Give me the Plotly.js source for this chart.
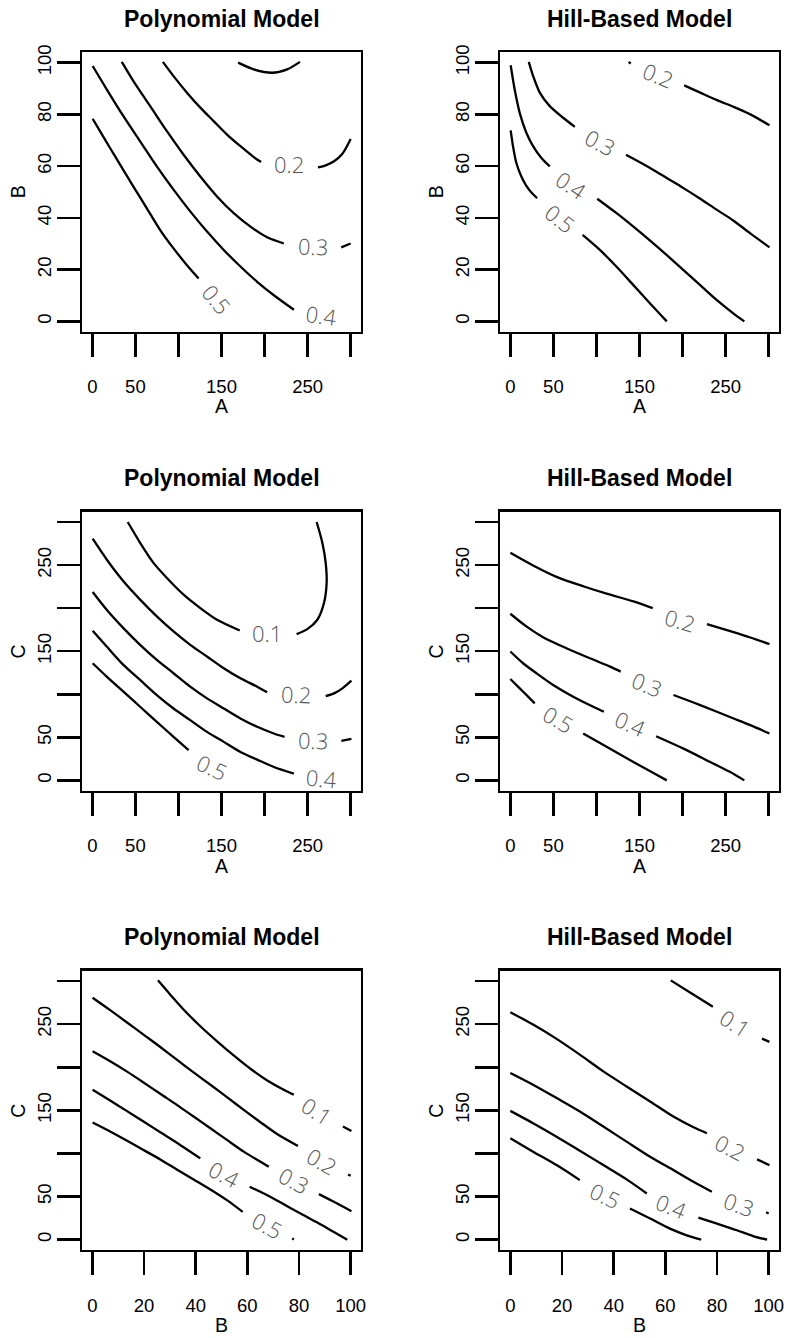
<!DOCTYPE html>
<html><head><meta charset="utf-8">
<script src="https://cdn.plot.ly/plotly-3.0.1.min.js"></script>
<style>html,body{margin:0;padding:0;background:#fff}#plot{width:787px;height:1338px}</style>
</head><body><div id="plot"></div>
<script>
// ---------- tick values / labels ----------
const ticks300 = [0, 50, 100, 150, 200, 250, 300];
const ticks300Text = ['0', '50', '', '150', '', '250', ''];
const ticks100 = [0, 20, 40, 60, 80, 100];
const ticks100Text = ['0', '20', '40', '60', '80', '100'];
const titles = ['Polynomial Model', 'Hill-Based Model'];

// ---------- Panel 1: Polynomial, A vs B ----------
const pAB_01_A = [169.3, 187.5, 208.9, 226.3, 241.1];
const pAB_01_B = [100, 97.4, 96.1, 97.4, 100.3];
const pAB_02_A = [81.9, 94.3, 109.9, 125.4, 140.9, 156.4, 172, 187.5, 196, null, 262, 271, 280.7, 290.4, 300];
const pAB_02_B = [100.3, 94.8, 88.4, 82.6, 77.4, 72.2, 67.7, 63.5, 61.6, null, 59.5, 60.3, 61.9, 64.8, 70.5];
const pAB_03_A = [34.2, 47.7, 67.2, 86.6, 106, 125.4, 144.8, 164.2, 183.6, 203, 222.4, null, 289, 300];
const pAB_03_B = [100.3, 92.9, 83.2, 73.5, 64.4, 56, 48.3, 41.8, 36.6, 32.5, 30.1, null, 28.6, 30.1];
const pAB_04_A = [0.4, 16.7, 36.1, 55.5, 74.9, 94.3, 113.7, 133.2, 152.6, 172, 191.4, 210.8, 234.1];
const pAB_04_B = [98.7, 89.7, 79.3, 69.6, 59.9, 50.9, 42.5, 34.7, 27.6, 21.2, 15.3, 10.1, 4.5];
const pAB_05_A = [0.4, 8.9, 20.6, 32.2, 47.7, 63.3, 78.8, 94.3, 109.9, 123.4];
const pAB_05_B = [78.3, 73.5, 67, 60.6, 52.1, 43.7, 35.3, 28.2, 21.7, 16.6];
const pAB_labText = ['0.2', '0.3', '0.4', '0.5'];
const pAB_labA = [228.3, 256, 266.3, 144.8];
const pAB_labB = [60.7, 29.2, 2.6, 8.8];
const pAB_labAngle = [0, 2, 8, 50];

// ---------- Panel 2: Hill, A vs B ----------
const hAB_02_A = [137.4, 139.8, null, 201.9, 220.5, 239.9, 259.3, 278.7, 300.9];
const hAB_02_B = [100.3, 99.6, null, 91.2, 88.4, 85.5, 82.9, 80, 75.8];
const hAB_03_A = [21.4, 26.4, 34.2, 45.8, 61.3, 74.9, null, 134.3, 162.3, 181.7, 201.1, 220.5, 239.9, 259.3, 278.7, 300.9];
const hAB_03_B = [100.3, 94.9, 88.4, 83.2, 78.7, 75.2, null, 64.4, 59.3, 55.4, 51.5, 47.4, 43.1, 38.9, 34, 28.6];
const hAB_04_A = [0.4, 5, 10.9, 18.6, 26.4, 36.1, 45.8, null, 100.9, 123.4, 142.9, 162.3, 181.7, 201.1, 220.5, 239.9, 259.3, 271.7];
const hAB_04_B = [99, 89.7, 80.6, 72.9, 67.7, 63.1, 59.9, null, 47.4, 41.8, 36.6, 31.2, 25.6, 19.8, 14, 8.2, 3, 0];
const hAB_05_A = [0.4, 3.1, 7, 12.8, 18.6, 24.5, 31.1, null, 83.9, 104, 123.4, 142.9, 162.3, 181.7];
const hAB_05_B = [73.8, 67.7, 61.2, 56, 52.4, 49.8, 47.6, null, 33.4, 27.6, 21.1, 14, 6.9, 0];
const hAB_labText = ['0.2', '0.3', '0.4', '0.5'];
const hAB_labA = [172, 104, 71, 57.5];
const hAB_labB = [95.1, 69.2, 52.8, 39.9];
const hAB_labAngle = [22, 28, 34, 38];

// ---------- Panel 3: Polynomial, A vs C ----------
const pAC_01_A = [41.1, 55.5, 71, 86.6, 106, 125.4, 144.8, 171.2, null, 237.2, 249.6, 261.3, 269, 272.1, 271, 267.1, 260.5];
const pAC_01_C = [300, 275.9, 252.6, 235.1, 215.7, 200.1, 186.5, 174.1, null, 169.8, 175.6, 186.5, 206, 229.3, 252.6, 275.9, 300];
const pAC_02_A = [0.4, 16.7, 36.1, 55.5, 74.9, 94.3, 113.7, 133.2, 152.6, 172, 191.4, 203, null, 271, 280.7, 290.4, 300.9];
const pAC_02_C = [280.6, 256.5, 231.2, 209.9, 190.4, 172.9, 157.4, 143.8, 130.2, 118.5, 108.8, 102.2, null, 97.9, 101, 106.9, 115.8];
const pAC_03_A = [0.4, 16.7, 36.1, 55.5, 74.9, 94.3, 113.7, 133.2, 152.6, 172, 191.4, 210.8, 223.2, null, 289.2, 300.9];
const pAC_03_C = [218.8, 198.2, 176.8, 157.4, 139.9, 124.4, 108.8, 95.2, 83.5, 71.9, 62.2, 54.4, 50.5, null, 45.9, 48.2];
const pAC_04_A = [0.4, 16.7, 36.1, 55.5, 74.9, 94.3, 113.7, 133.2, 152.6, 172, 191.4, 210.8, 234.1];
const pAC_04_C = [173.7, 155.4, 134.1, 116.6, 99.1, 83.5, 69.9, 56.3, 44.7, 33, 24.1, 15.5, 7.8];
const pAC_05_A = [0.4, 16.7, 36.1, 55.5, 74.9, 94.3, 111.8];
const pAC_05_C = [136, 120.5, 103, 85.5, 68, 50.5, 35];
const pAC_labText = ['0.1', '0.2', '0.3', '0.4', '0.5'];
const pAC_labA = [202.3, 236, 256.2, 266, 139];
const pAC_labC = [171, 100.3, 46.6, 2.7, 15.5];
const pAC_labAngle = [0, 2, 2, 5, 25];

// ---------- Panel 4: Hill, A vs C ----------
const hAC_02_A = [0, 26.4, 53.6, 84.6, 111.8, 142.9, 165.4, null, 228.3, 259.3, 278.7, 300.9];
const hAC_02_C = [264.2, 249.5, 236.3, 225.4, 216.8, 207.9, 200.1, null, 181.5, 172.1, 165.9, 158.2];
const hAC_03_A = [0, 18.6, 38, 65.2, 92.4, 115.7, 128.1, null, 189.4, 220.5, 259.3, 278.7, 300.9];
const hAC_03_C = [193.5, 178.8, 166.3, 153.5, 141.8, 132.1, 126.3, null, 99.1, 87.4, 71.9, 64.1, 54.4];
const hAC_04_A = [0, 14.8, 30.3, 49.7, 73, 96.3, 108.7, null, 169.3, 201.1, 232.1, 255.4, 271.7];
const hAC_04_C = [149.6, 136, 124.4, 110.8, 97.2, 85.5, 79.7, null, 51.3, 36.9, 21.4, 9.7, 0];
const hAC_05_A = [0, 10.9, 20.6, 28.3, null, 84.6, 111.8, 142.9, 166.2, 181.7];
const hAC_05_C = [117.7, 106.9, 97.2, 89.4, null, 54.4, 38.9, 21.4, 8.5, 0];
const hAC_labText = ['0.2', '0.3', '0.4', '0.5'];
const hAC_labA = [197.2, 158.4, 139, 55.5];
const hAC_labC = [186.5, 111.5, 66.1, 70.7];
const hAC_labAngle = [16, 22, 24, 30];

// ---------- Panel 5: Polynomial, B vs C ----------
const pBC_01_B = [25.4, 30.1, 35.3, 41.8, 48.3, 54.7, 61.2, 67.7, 74.1, 78, null, 97, 100.3];
const pBC_01_C = [300.8, 284.5, 267, 247.6, 230.1, 213.8, 198.3, 184.7, 173.9, 168, null, 131.2, 126.1];
const pBC_02_B = [0.1, 6.9, 13.3, 19.8, 26.3, 32.7, 39.2, 45.7, 52.1, 58.6, 65.1, 71.5, 79.6, null, 99, 100];
const pBC_02_C = [280.6, 266.2, 252.2, 237.9, 223.5, 208.8, 194, 179.7, 165.3, 150.6, 136.2, 122.6, 108.7, null, 75.7, 74.1];
const pBC_03_B = [0.1, 6.9, 13.3, 19.8, 26.3, 32.7, 39.2, 45.7, 52.1, 58.6, 65.1, 68.3, null, 87.7, 93.5, 100.3];
const pBC_03_C = [218.5, 206.9, 195.2, 182.4, 169.2, 156.4, 142.8, 129.2, 115.7, 102.1, 90.4, 84.6, null, 52.8, 43.9, 33];
const pBC_04_B = [0.1, 6.9, 13.3, 19.8, 26.3, 32.7, 41.8, null, 60.9, 67.7, 74.1, 80.6, 87.1, 93.5, 98.7];
const pBC_04_C = [173.9, 161.4, 149.4, 137, 124.6, 112.5, 94.3, null, 61.3, 51.6, 41.1, 30.3, 19.8, 8.9, 0];
const pBC_05_B = [0.1, 6.9, 13.3, 19.8, 26.3, 32.7, 39.2, 45.7, 52.1, 58.2, null, 77.4, 78];
const pBC_05_C = [135.8, 125.4, 114.9, 104, 93.1, 81.5, 69.9, 58.2, 45.8, 32.2, null, 1.5, 0];
const pBC_labText = ['0.1', '0.2', '0.3', '0.4', '0.5'];
const pBC_labB = [87.1, 89, 78, 51.1, 67.7];
const pBC_labC = [149.8, 91.6, 69.1, 76.1, 16.7];
const pBC_labAngle = [33, 30, 28, 28, 28];

// ---------- Panel 6: Hill, B vs C ----------
const hBC_01_B = [62.1, 70.2, 78.4, null, 97.4, 100.3];
const hBC_01_C = [300.8, 285.6, 270.1, null, 233.2, 229.4];
const hBC_02_B = [0, 8.8, 17.9, 26.9, 36, 45, 54.1, 63.1, 70.9, 76.1, null, 95.5, 100.3];
const hBC_02_C = [263.9, 249.5, 232.9, 214.6, 195.2, 177.7, 160.3, 142.8, 130.4, 123.4, null, 93.1, 86.5];
const hBC_03_B = [0, 8.8, 17.9, 26.9, 36, 45, 54.1, 63.1, 70.9, 78, null, 99, 100];
const hBC_03_C = [193.3, 179.7, 164.2, 148.6, 131.2, 113.7, 96.2, 80.7, 67.1, 55.5, null, 31.8, 30.3];
const hBC_04_B = [0, 8.8, 17.9, 26.9, 36, 45, 52.8, null, 72.8, 80, 87.7, 94.2, 99.4];
const hBC_04_C = [149.4, 135.1, 119.5, 103.2, 86.5, 69.9, 53.6, null, 25.6, 18.6, 10.9, 3.9, 0];
const hBC_05_B = [0, 8.8, 17.9, 26.9, null, 46.3, 54.1, 61.8, 68.3, 73.9];
const hBC_05_C = [117.6, 102.1, 86.5, 69.1, null, 36.1, 24.5, 12.8, 5, 0];
const hBC_labText = ['0.1', '0.2', '0.3', '0.4', '0.5'];
const hBC_labB = [87.1, 85.1, 88.4, 62.5, 36.6];
const hBC_labC = [251.5, 107.1, 41.9, 39.2, 51.6];
const hBC_labAngle = [33, 27, 20, 22, 25];

// ---------- assemble ----------
const panels = [
  {title: titles[0], xName: 'A', yName: 'B', xr: 300, yr: 100,
   lines: [[pAB_01_A, pAB_01_B], [pAB_02_A, pAB_02_B], [pAB_03_A, pAB_03_B], [pAB_04_A, pAB_04_B], [pAB_05_A, pAB_05_B]],
   lab: [pAB_labText, pAB_labA, pAB_labB, pAB_labAngle]},
  {title: titles[1], xName: 'A', yName: 'B', xr: 300, yr: 100,
   lines: [[hAB_02_A, hAB_02_B], [hAB_03_A, hAB_03_B], [hAB_04_A, hAB_04_B], [hAB_05_A, hAB_05_B]],
   lab: [hAB_labText, hAB_labA, hAB_labB, hAB_labAngle]},
  {title: titles[0], xName: 'A', yName: 'C', xr: 300, yr: 300,
   lines: [[pAC_01_A, pAC_01_C], [pAC_02_A, pAC_02_C], [pAC_03_A, pAC_03_C], [pAC_04_A, pAC_04_C], [pAC_05_A, pAC_05_C]],
   lab: [pAC_labText, pAC_labA, pAC_labC, pAC_labAngle]},
  {title: titles[1], xName: 'A', yName: 'C', xr: 300, yr: 300,
   lines: [[hAC_02_A, hAC_02_C], [hAC_03_A, hAC_03_C], [hAC_04_A, hAC_04_C], [hAC_05_A, hAC_05_C]],
   lab: [hAC_labText, hAC_labA, hAC_labC, hAC_labAngle]},
  {title: titles[0], xName: 'B', yName: 'C', xr: 100, yr: 300,
   lines: [[pBC_01_B, pBC_01_C], [pBC_02_B, pBC_02_C], [pBC_03_B, pBC_03_C], [pBC_04_B, pBC_04_C], [pBC_05_B, pBC_05_C]],
   lab: [pBC_labText, pBC_labB, pBC_labC, pBC_labAngle]},
  {title: titles[1], xName: 'B', yName: 'C', xr: 100, yr: 300,
   lines: [[hBC_01_B, hBC_01_C], [hBC_02_B, hBC_02_C], [hBC_03_B, hBC_03_C], [hBC_04_B, hBC_04_C], [hBC_05_B, hBC_05_C]],
   lab: [hBC_labText, hBC_labB, hBC_labC, hBC_labAngle]}
];

const W = 787, H = 1338;
const colPx = [[82, 361], [500, 779]];
const rowPx = [[52.3, 331.7], [511.7, 790.7], [970.7, 1250]];
const FONT = 'Liberation Sans, Arial, Helvetica, sans-serif';
const LABFONT = 'Open Sans, Liberation Sans, sans-serif';

const data = [];
const layout = {
  width: W, height: H, margin: {l: 0, r: 0, t: 0, b: 0},
  paper_bgcolor: '#fff', plot_bgcolor: '#fff', showlegend: false,
  annotations: [], font: {family: FONT, color: '#000'}
};

function tickSet(r) { return r === 300 ? [ticks300, ticks300Text] : [ticks100, ticks100Text]; }

panels.forEach((p, i) => {
  const row = Math.floor(i / 2), col = i % 2;
  const n = i === 0 ? '' : String(i + 1);
  const xa = 'x' + n, ya = 'y' + n;
  const [x0, x1] = colPx[col], [t0, b0] = rowPx[row];
  const pad = 0.04;
  const xt = tickSet(p.xr), yt = tickSet(p.yr);
  const common = {
    showgrid: false, zeroline: false, showline: true, mirror: true,
    linecolor: '#000', linewidth: 2.4, ticks: 'outside', ticklen: 23,
    tickwidth: 2.5, tickcolor: '#000', tickmode: 'array', fixedrange: true,
    tickfont: {family: FONT, size: 18.5, color: '#000'}
  };
  layout['xaxis' + n] = Object.assign({}, common, {
    domain: [x0 / W, x1 / W], anchor: ya,
    range: [-pad * p.xr, (1 + pad) * p.xr],
    tickvals: xt[0], ticktext: xt[1], ticklabelstandoff: 14
  });
  layout['yaxis' + n] = Object.assign({}, common, {
    domain: [1 - b0 / H, 1 - t0 / H], anchor: xa,
    range: [-pad * p.yr, (1 + pad) * p.yr],
    tickvals: yt[0], ticktext: yt[1], tickangle: -90, ticklabelstandoff: -2
  });
  p.lines.forEach(l => {
    data.push({type: 'scatter', mode: 'lines', x: l[0], y: l[1], xaxis: xa, yaxis: ya,
      connectgaps: false, hoverinfo: 'skip',
      line: {color: '#000', width: 2.3, shape: 'spline', smoothing: 0.8}});
  });
  const [txt, lx, ly, la] = p.lab;
  txt.forEach((t, k) => {
    layout.annotations.push({xref: xa, yref: ya, x: lx[k], y: ly[k], text: t,
      textangle: la[k], showarrow: false, xanchor: 'center', yanchor: 'middle',
      font: {family: LABFONT, size: 22, color: '#555', weight: 300}});
  });
  const cx = (x0 + x1) / 2, cy = (t0 + b0) / 2;
  const titleY = [19, 478, 937][row];
  layout.annotations.push({xref: 'paper', yref: 'paper', x: cx / W, y: 1 - titleY / H,
    text: '<b>' + p.title + '</b>', showarrow: false, xanchor: 'center', yanchor: 'middle',
    font: {family: FONT, size: 23, color: '#000'}});
  const xtY = [406.5, 865.5, 1325][row];
  layout.annotations.push({xref: 'paper', yref: 'paper', x: cx / W, y: 1 - xtY / H,
    text: p.xName, showarrow: false, xanchor: 'center', yanchor: 'middle',
    font: {family: FONT, size: 19.5, color: '#000'}});
  layout.annotations.push({xref: 'paper', yref: 'paper', x: (x0 - 63.7) / W, y: 1 - cy / H,
    text: p.yName, textangle: -90, showarrow: false, xanchor: 'center', yanchor: 'middle',
    font: {family: FONT, size: 19.5, color: '#000'}});
});

Plotly.newPlot('plot', data, layout, {displayModeBar: false, staticPlot: true});
</script></body></html>
